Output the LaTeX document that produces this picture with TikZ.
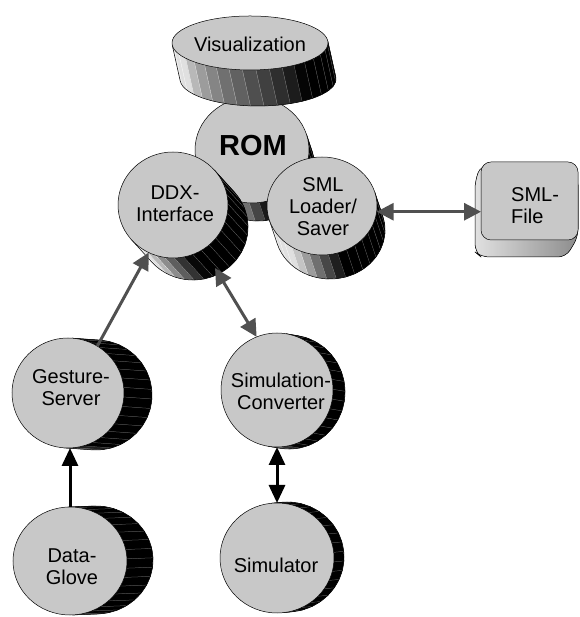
\documentclass[tikz,border=0pt]{standalone}
\usepackage{fontspec}
\setmainfont{Liberation Sans}
\usetikzlibrary{shapes.geometric,arrows.meta,calc}
\definecolor{facecol}{RGB}{200,200,200}
\definecolor{arrgray}{RGB}{80,80,80}
\tikzset{
  face/.style={ellipse, draw=black, line width=0.5pt, fill=facecol, inner sep=0pt, outer sep=0pt},
  filebox/.style={rectangle, rounded corners=10pt, draw=black, line width=0.5pt, fill=facecol, inner sep=0pt, outer sep=0pt},
  lbl/.style={align=center, inner sep=0pt, font=\fontsize{20}{22}\selectfont},
  garrow/.style={draw=arrgray, line width=3pt, >={Triangle[length=17pt,width=17pt]}},
  barrow/.style={draw=black, line width=3pt, >={Triangle[length=18pt,width=16pt]}}
}
% #1 name, #2 cx, #3 cy, #4 rx, #5 ry, #6 dx, #7 dy
\newcommand\drawcyl[7]{%
  \pgfmathsetmacro\cphi{atan2(#4*(#7),#5*(#6))}%
  \foreach \k in {0,...,17}{%
    \pgfmathsetmacro\ta{\cphi-90+\k*10}%
    \pgfmathsetmacro\tb{\ta+10}%
    \pgfmathsetmacro\tm{\ta+5}%
    \pgfmathsetmacro\al{atan2(#4*sin(\tm),#5*cos(\tm))}%
    \pgfmathsetmacro\lin{min(\al+122,60)}%
    \pgfmathtruncatemacro\pp{min(100,max(12,12+\lin*1.8))}%
    \pgfmathtruncatemacro\pq{max(0,\pp-45)}%
    \fill[black!\pp, draw=black!\pp, line width=0.3pt]
      ({#2+#4*cos(\ta)},{#3+#5*sin(\ta)}) -- ++(#6,#7)
      -- ({#2+#6+#4*cos(\tb)},{#3+#7+#5*sin(\tb)})
      -- ({#2+#4*cos(\tb)},{#3+#5*sin(\tb)}) -- cycle;
    \draw[black!\pq, line width=0.25pt] ({#2+#4*cos(\ta)},{#3+#5*sin(\ta)}) -- ++(#6,#7);
  }%
  \draw[line width=0.5pt] ({#2+#4*cos(\cphi-90)},{#3+#5*sin(\cphi-90)}) -- ++(#6,#7)
    arc[start angle=\cphi-90, end angle=\cphi+90, x radius=#4, y radius=#5]
    -- ++({-1*(#6)},{-1*(#7)});
  \node[face, minimum width={2*#4pt}, minimum height={2*#5pt}] (#1) at (#2,#3) {};
}
\begin{document}
\begin{tikzpicture}[x=1pt,y=1pt]
\useasboundingbox (0,0) rectangle (579,617);
\drawcyl{rom}{252}{467}{57}{53}{6}{-18}
\drawcyl{vis}{250}{574}{78}{27}{8}{-36}
\drawcyl{ddx}{173}{412}{55}{53}{20}{-22}
\drawcyl{sml}{322}{411}{55}{49}{8}{-24}
\drawcyl{gs}{68}{224}{56}{55}{28}{-2}
\drawcyl{simc}{277}{227}{56}{57}{12}{-2}
\drawcyl{dg}{70}{56}{57}{54}{26}{1}
\drawcyl{sim}{277}{59}{57}{55}{10}{1}
% SML-File box
\fill[left color=black!12, right color=black!45, draw=black, line width=0.5pt, rounded corners=8pt]
  (481,452) -- (475,436) -- (475,365) -- (481,360) -- (566,360) -- (578,380) -- (578,440) -- cycle;
\node[filebox, minimum width=97pt, minimum height=78pt] (file) at (529.5,416) {};
% labels
\node[lbl] (vis-t) at (250,573) {Visualization};
\node[lbl, font=\fontsize{29}{32}\selectfont\bfseries] (rom-t) at (253,471) {ROM};
\node[lbl] (ddx-t) at (175,413) {DDX-\\Interface};
\node[lbl] (sml-t) at (323,410) {SML\\Loader/\\Saver};
\node[lbl, align=left, anchor=west] (file-t) at (511,411) {SML-\\File};
\node[lbl] (gs-t) at (71,229) {Gesture-\\Server};
\node[lbl] (simc-t) at (281,226) {Simulation-\\Converter};
\node[lbl] (dg-t) at (72,50) {Data-\\Glove};
\node[lbl] (sim-t) at (276,52) {Simulator};
% connectors
\path (ddx.center) ++(42,-63) coordinate (ddxlow);
\draw[garrow,->] (gs.58) -- (ddx.-117);
\draw[garrow,<->] (ddxlow) -- (simc.111);
\draw[garrow,<->] (sml.-6) -- (sml.-6 -| file.west);
\draw[barrow,->] (dg.north) -- (dg.north |- gs.south);
\draw[barrow,<->] (sim.north) -- (sim.north |- simc.south);
\end{tikzpicture}
\end{document}
